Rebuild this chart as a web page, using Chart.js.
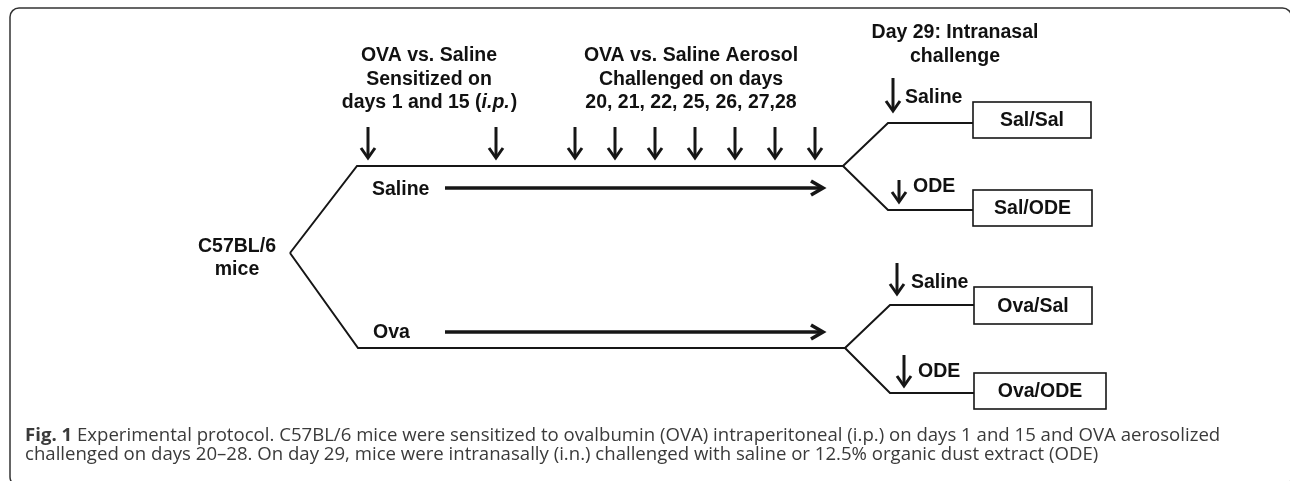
<!DOCTYPE html>
<html>
<head>
    <title>Experimental protocol</title>
    <script src="https://cdn.jsdelivr.net/npm/chart.js"></script>
    <style>
        body { margin: 0; background: #fff; }
    </style>
</head>
<body>

<canvas id="myChart" width="1290" height="481"></canvas>

<script>
    // diagram drawn in a 1290 x 481 coordinate space (x right, y down)

    // main tree: C57BL/6 splits into saline and ova arms
    var salineArm = [[290, 253], [357, 166], [843, 166]];
    var ovaArm = [[290, 253], [358, 348], [845, 348]];

    // day 29 splits
    var splitJoints = [[843, 166], [843, 166], [845, 348], [845, 348]];
    var splitElbows = [[888, 123], [888, 210], [890, 305], [890, 393]];
    var groupNames = ['Sal/Sal', 'Sal/ODE', 'Ova/Sal', 'Ova/ODE'];
    var groupBoxLeft = [973, 973, 974, 974];
    var groupBoxRight = [1091, 1092, 1092, 1106];
    var groupBoxTop = [102, 190, 287, 373];
    var groupBoxBottom = [138, 226, 324, 409];

    // i.n. challenge arrows and labels
    var challengeNames = ['Saline', 'ODE', 'Saline', 'ODE'];
    var challengeArrowX = [893, 899, 897, 904];
    var challengeArrowTop = [78, 180, 263, 355];
    var challengeArrowBottom = [112, 203, 295, 387];
    var challengeLabelX = [905, 913, 911, 918];
    var challengeLabelY = [98, 187, 283, 372];

    // days 1, 15, 20, 21, 22, 25, 26, 27, 28
    var timelineArrowX = [368, 496, 575, 615, 655, 695, 735, 775, 815];
    var timelineArrowTop = 127;
    var timelineArrowBottom = 159;

    // long horizontal arrows
    var armArrowStart = 445;
    var armArrowEnd = 823;
    var armArrowY = [188, 332];

    var headings = [
        { x: 429, y: [56, 80, 103], lines: ['OVA vs. Saline', 'Sensitized on', 'days 1 and 15 (i.p.)'] },
        { x: 691, y: [56, 80, 103], lines: ['OVA vs. Saline Aerosol', 'Challenged on days', '20, 21, 22, 25, 26, 27,28'] },
        { x: 955, y: [33, 57], lines: ['Day 29: Intranasal', 'challenge'] }
    ];
    var armLabels = [['Saline', 372, 190], ['Ova', 373, 333]];
    var strainLabel = [['C57BL/6', 237, 247], ['mice', 237, 270]];

    var captionLines = [
        ['Fig. 1', ' Experimental protocol. C57BL/6 mice were sensitized to ovalbumin (OVA) intraperitoneal (i.p.) on days 1 and 15 and OVA aerosolized'],
        ['', 'challenged on days 20\u201328. On day 29, mice were intranasally (i.n.) challenged with saline or 12.5% organic dust extract (ODE)']
    ];
    var captionX = 25;
    var captionBaseline = [441, 460];

    function toPoints(arr) {
        return arr.map(function (p) { return { x: p[0], y: p[1] }; });
    }

    var datasets = [];
    datasets.push({ data: toPoints(salineArm) });
    datasets.push({ data: toPoints(ovaArm) });
    for (var i = 0; i < groupNames.length; i++) {
        datasets.push({
            data: toPoints([splitJoints[i], splitElbows[i], [groupBoxLeft[i], splitElbows[i][1]]])
        });
    }
    datasets.forEach(function (d) {
        d.showLine = true;
        d.borderColor = '#161616';
        d.borderWidth = 2;
        d.pointRadius = 0;
        d.fill = false;
    });

    var BOLD = 'bold 19.5px "Liberation Sans", Arial, sans-serif';

    function downArrow(ctx, x, y1, y2) {
        ctx.beginPath();
        ctx.moveTo(x, y1);
        ctx.lineTo(x, y2 - 2);
        ctx.stroke();
        ctx.beginPath();
        ctx.moveTo(x - 7, y2 - 11);
        ctx.lineTo(x, y2 - 1);
        ctx.lineTo(x + 7, y2 - 11);
        ctx.stroke();
    }

    var diagramPlugin = {
        id: 'diagram',
        afterDatasetsDraw: function (chart) {
            var ctx = chart.ctx;
            var sx = chart.scales.x, sy = chart.scales.y;
            var px = function (v) { return sx.getPixelForValue(v); };
            var py = function (v) { return sy.getPixelForValue(v); };
            ctx.save();

            // outer frame (right and bottom edges run just past the picture)
            ctx.strokeStyle = '#333';
            ctx.lineWidth = 1.5;
            ctx.beginPath();
            ctx.roundRect(px(10), py(8), px(1291.5) - px(10), py(486) - py(8), 9);
            ctx.stroke();

            // group boxes
            ctx.strokeStyle = '#161616';
            ctx.lineWidth = 1.6;
            ctx.font = BOLD;
            ctx.textAlign = 'center';
            ctx.textBaseline = 'middle';
            ctx.fillStyle = '#111';
            for (var i = 0; i < groupNames.length; i++) {
                var l = px(groupBoxLeft[i]), r = px(groupBoxRight[i]);
                var t = py(groupBoxTop[i]), b = py(groupBoxBottom[i]);
                ctx.strokeRect(l, t, r - l, b - t);
                ctx.fillText(groupNames[i], (l + r) / 2, (t + b) / 2 + 1);
            }

            // arrows
            ctx.lineWidth = 3;
            ctx.lineCap = 'butt';
            ctx.lineJoin = 'miter';
            timelineArrowX.forEach(function (x) {
                downArrow(ctx, px(x), py(timelineArrowTop), py(timelineArrowBottom));
            });
            for (var j = 0; j < challengeArrowX.length; j++) {
                downArrow(ctx, px(challengeArrowX[j]), py(challengeArrowTop[j]), py(challengeArrowBottom[j]));
            }
            ctx.lineWidth = 3.6;
            armArrowY.forEach(function (y) {
                var yy = py(y), x1 = px(armArrowStart), x2 = px(armArrowEnd);
                ctx.beginPath();
                ctx.moveTo(x1, yy);
                ctx.lineTo(x2 - 2, yy);
                ctx.stroke();
                ctx.beginPath();
                ctx.moveTo(x2 - 12, yy - 7);
                ctx.lineTo(x2, yy);
                ctx.lineTo(x2 - 12, yy + 7);
                ctx.stroke();
            });

            // texts
            ctx.textAlign = 'center';
            headings.forEach(function (h) {
                h.lines.forEach(function (line, k) {
                    if (line.indexOf('(i.p.)') >= 0) {
                        // italic i.p.
                        var pre = line.replace('(i.p.)', '(');
                        var it = 'i.p.';
                        var post = ')';
                        ctx.font = BOLD;
                        var w1 = ctx.measureText(pre).width, w3 = ctx.measureText(post).width;
                        ctx.font = 'italic ' + BOLD;
                        var w2 = ctx.measureText(it).width;
                        var x0 = px(h.x) - (w1 + w2 + w3) / 2;
                        ctx.textAlign = 'left';
                        ctx.font = BOLD;
                        ctx.fillText(pre, x0, py(h.y[k]));
                        ctx.font = 'italic ' + BOLD;
                        ctx.fillText(it, x0 + w1, py(h.y[k]));
                        ctx.font = BOLD;
                        ctx.fillText(post, x0 + w1 + w2 + 1, py(h.y[k]));
                        ctx.textAlign = 'center';
                    } else {
                        ctx.font = BOLD;
                        ctx.fillText(line, px(h.x), py(h.y[k]));
                    }
                });
            });
            strainLabel.forEach(function (s) {
                ctx.fillText(s[0], px(s[1]), py(s[2]));
            });
            ctx.textAlign = 'left';
            armLabels.forEach(function (s) {
                ctx.fillText(s[0], px(s[1]), py(s[2]));
            });
            for (var m = 0; m < challengeNames.length; m++) {
                ctx.fillText(challengeNames[m], px(challengeLabelX[m]), py(challengeLabelY[m]));
            }

            // caption
            ctx.fillStyle = '#3a3a3a';
            ctx.textBaseline = 'alphabetic';
            captionLines.forEach(function (c, k) {
                var x = px(captionX);
                if (c[0]) {
                    ctx.font = 'bold 18.6px "Open Sans", sans-serif';
                    ctx.fillText(c[0], x, py(captionBaseline[k]));
                    x += ctx.measureText(c[0]).width;
                }
                ctx.font = '18.6px "Open Sans", sans-serif';
                ctx.fillText(c[1], x, py(captionBaseline[k]));
            });
            ctx.restore();
        }
    };

    var ctx = document.getElementById('myChart').getContext('2d');
    var myChart = new Chart(ctx, {
        type: 'scatter',
        data: { datasets: datasets },
        options: {
            responsive: false,
            animation: false,
            layout: { padding: 0 },
            scales: {
                x: { type: 'linear', min: 0, max: 1290, display: false },
                y: { type: 'linear', min: 0, max: 481, reverse: true, display: false }
            },
            plugins: {
                legend: { display: false },
                tooltip: { enabled: false }
            }
        },
        plugins: [diagramPlugin]
    });
</script>

</body>
</html>
